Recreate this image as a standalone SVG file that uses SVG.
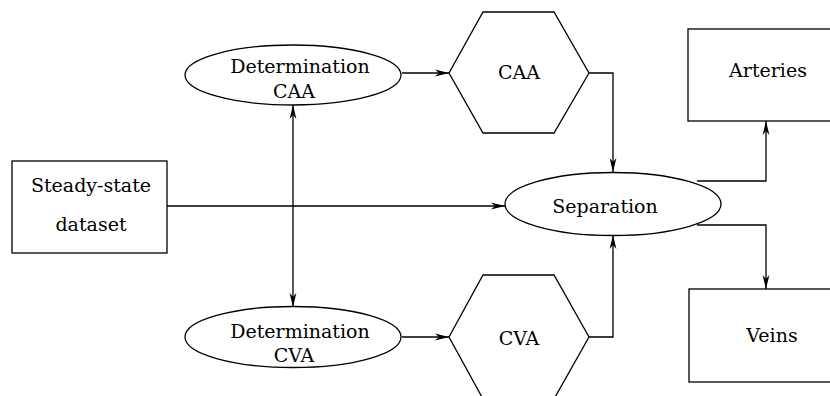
<svg xmlns="http://www.w3.org/2000/svg" width="830" height="396" viewBox="0 0 830 396">
<style>
.s{fill:#fff;stroke:#000;stroke-width:1.3}
.t{font-family:"DejaVu Serif","Liberation Serif",serif;font-size:19px;text-anchor:middle;fill:#000}
.c{fill:none;stroke:#000;stroke-width:1.3}
</style>
<defs>
<marker id="a" markerWidth="16" markerHeight="8" refX="14" refY="4" orient="auto" markerUnits="userSpaceOnUse">
<path d="M0,0.6 L14,4 L0,7.4 L4,4 Z" fill="#000"/>
</marker>
<marker id="b" markerWidth="16" markerHeight="8" refX="1" refY="4" orient="auto" markerUnits="userSpaceOnUse">
<path d="M15,0.6 L1,4 L15,7.4 L11,4 Z" fill="#000"/>
</marker>
</defs>
<rect width="830" height="396" fill="#fff"/>
<g id="connectors">
<line class="c" x1="402" y1="73" x2="449" y2="73" marker-end="url(#a)"/>
<polyline class="c" points="589,73 613,73 613,172" marker-end="url(#a)"/>
<line class="c" x1="167" y1="206" x2="505" y2="206" marker-end="url(#a)"/>
<line class="c" x1="293" y1="105" x2="293" y2="307" marker-start="url(#b)" marker-end="url(#a)"/>
<line class="c" x1="402" y1="337" x2="449" y2="337" marker-end="url(#a)"/>
<polyline class="c" points="589,337 613,337 613,235" marker-end="url(#a)"/>
<polyline class="c" points="697,181 766,181 766,121" marker-end="url(#a)"/>
<polyline class="c" points="697,225 766,225 766,289" marker-end="url(#a)"/>
</g>
<g id="steady">
<rect class="s" x="12" y="161" width="155" height="92"/>
<text class="t" x="91" y="192">Steady-state</text>
<text class="t" x="91" y="231">dataset</text>
</g>
<g id="detCAA">
<ellipse class="s" cx="293" cy="75" rx="108" ry="30"/>
<text class="t" x="300" y="73">Determination</text>
<text class="t" x="294" y="98">CAA</text>
</g>
<g id="detCVA">
<ellipse class="s" cx="293" cy="337" rx="108" ry="30.5"/>
<text class="t" x="300" y="338">Determination</text>
<text class="t" x="294" y="362">CVA</text>
</g>
<g id="CAA">
<polygon class="s" points="449,73 483,12 554,12 589,73 554,133 483,133"/>
<text class="t" x="519" y="79">CAA</text>
</g>
<g id="CVA">
<polygon class="s" points="449,337 483,275 554,275 589,337 554,399 483,399"/>
<text class="t" x="519" y="345">CVA</text>
</g>
<g id="separation">
<ellipse class="s" cx="613" cy="204" rx="108" ry="31.5"/>
<text class="t" x="605" y="213">Separation</text>
</g>
<g id="arteries">
<rect class="s" x="688" y="29" width="162" height="92"/>
<text class="t" x="768" y="77">Arteries</text>
</g>
<g id="veins">
<rect class="s" x="689" y="289" width="162" height="93"/>
<text class="t" x="772" y="342">Veins</text>
</g>
</svg>
